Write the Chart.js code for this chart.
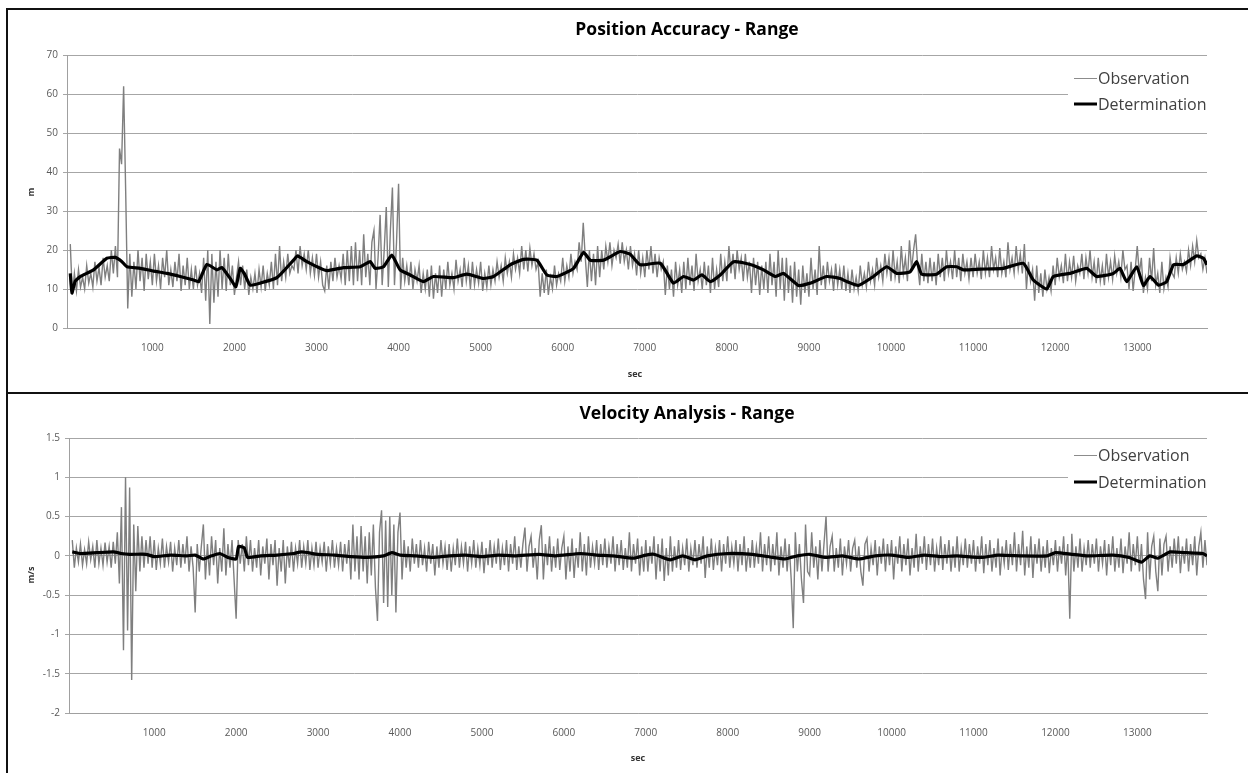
<!DOCTYPE html>
<html>
<head>
<meta charset="utf-8">
<title>Position Accuracy / Velocity Analysis - Range</title>
<script src="https://cdn.jsdelivr.net/npm/chart.js@4.4.1/dist/chart.umd.min.js"></script>
<style>
  body { margin: 0; background: #fff; width: 1248px; height: 773px; overflow: hidden; position: relative; }
  .frame { position: absolute; background: #111; }
  canvas { position: absolute; }
</style>
</head>
<body>
<div class="frame" style="left:6px;top:8px;width:1242px;height:2px"></div>
<div class="frame" style="left:6px;top:392px;width:1242px;height:2px"></div>
<div class="frame" style="left:6px;top:8px;width:2px;height:765px"></div>
<canvas id="posChart" width="1240" height="382" style="left:8px;top:10px"></canvas>
<canvas id="velChart" width="1240" height="379" style="left:8px;top:394px"></canvas>

<script>
// ---- data ----
var X_TICKS = [1000, 2000, 3000, 4000, 5000, 6000, 7000, 8000, 9000, 10000, 11000, 12000, 13000];
var OBS_STEP = 25; // one observation sample every 25 sec, 0 .. 13850 (20 per row = 500 sec)

// position accuracy, observation (m)
var posObs = [
  21.5, 8.5, 14, 9.5, 15, 10.5, 13, 10, 16, 11.5, 14, 10.5, 17, 12, 15.5, 11, 18, 13, 16, 12,
  20, 14, 21, 13, 46, 42, 62, 35, 5, 19, 8, 17, 10, 20, 12, 18, 9.5, 19, 12.5, 17,
  11, 19, 12, 16, 10, 18, 13, 20, 11, 15, 10.5, 17, 12, 19, 9.5, 16, 11, 18, 10, 15,
  10, 16, 11, 14, 9, 18, 7, 20, 1, 19, 6.5, 17, 8, 20, 10, 18, 9.5, 19, 11, 16,
  8.5, 13, 17, 11, 16, 10, 15, 8.5, 13, 10, 14, 9, 15, 10.5, 16, 9.5, 14, 11, 17, 10,
  19, 11, 21, 12, 17, 13, 19, 14, 16, 15, 20, 14, 21, 16, 19, 15, 20, 14, 18, 13.5,
  19, 13, 17, 11, 9.5, 16, 10, 17, 12, 18, 13, 16, 12.5, 19, 11, 20, 12, 21, 11, 22,
  12, 20, 11, 24, 13, 19, 11, 22, 25, 10, 18, 29, 11, 20, 31, 10.5, 25, 36, 11, 22,
  37, 10, 18, 12, 16, 11, 17, 10, 15, 12, 16, 9, 14, 10, 15, 8, 16, 7.5, 14, 9,
  16, 8, 15, 10, 17, 11, 14, 10, 17.5, 12, 15, 10.5, 18, 12, 16, 10, 17, 11, 15, 11.5,
  17, 9.5, 14, 10.5, 16, 11, 15, 12, 17, 13, 16, 12, 18, 14, 17, 13, 19, 15, 18, 14,
  21, 15, 20, 14.5, 20.5, 16, 19, 15, 17, 8, 14, 9, 15, 8.5, 13, 10, 16, 11, 14, 12,
  18, 12, 16, 13, 19, 14, 17, 15, 22, 17, 27, 18, 10.5, 20, 12, 19, 11, 21, 13, 20,
  15, 21, 17, 22, 16, 20, 18, 21.5, 16.5, 22, 17, 20, 15, 21, 16, 19, 13.5, 20, 14, 18,
  13, 20, 15, 21, 14, 19, 13, 18, 15, 17, 8.5, 16, 10, 15, 8, 17, 11, 15, 9, 17,
  10, 18, 11, 16, 9.5, 19, 12, 15, 10, 17, 11, 16, 9, 18, 10, 15, 10.5, 19, 12, 17,
  12, 21, 14, 19, 12.5, 20, 15, 18, 12, 19, 13, 17, 9, 18, 11, 17, 8.5, 16, 10, 17,
  9, 19, 11, 17, 8, 20, 10, 18, 7, 18, 9, 16, 6.5, 17, 8, 15, 6, 16, 9, 14,
  8, 18, 10, 15, 8.5, 21, 11, 16, 10, 17, 12, 15, 9.5, 16.5, 11, 15, 10, 16, 9.5, 14,
  9, 15, 10, 13, 9.5, 16, 11, 14, 10.5, 17, 12, 15, 11, 18, 13, 16, 12, 19, 14, 18,
  12, 20, 13, 17, 11.5, 21, 14, 18, 12, 22.5, 15, 20, 24, 16, 11, 19, 12, 17, 11.5, 18,
  12, 17, 11, 19, 13, 18, 12, 20, 14, 17, 12.5, 20, 13, 18, 12, 19, 14, 17, 12.5, 18,
  13, 19, 14, 17, 12.5, 20, 14, 18, 13, 21, 15, 18, 13, 20.5, 14, 17, 13, 22, 15, 18,
  14, 21, 15, 19, 14, 21.5, 10, 17, 12, 15, 7, 16, 9, 14, 8, 15, 10, 13, 9.5, 16,
  11, 18, 13, 16, 11.5, 19, 12, 17, 13, 18.5, 12, 16, 14, 19, 12.5, 18, 14, 20, 13, 17,
  11.5, 18, 12, 16, 11, 19, 13, 17, 12.5, 18.5, 14, 17, 13, 20, 15, 16, 10, 17, 9.5, 15,
  21, 14, 18, 9, 13, 10, 18, 12, 20.5, 11, 14, 9, 17, 10, 13, 10.5, 18, 14, 13, 18,
  14, 19, 15, 17, 14.5, 20, 16, 21, 17, 22.5, 18, 19, 15, 18, 14
];

// position accuracy, determination (m) as [sec, value]
var posDet = [
  [0, 14], [20, 9], [60, 12], [122, 13.2], [283, 14.9], [447, 17.9], [549, 18.1], [630, 17],
  [690, 15.7], [853, 15.3], [1015, 14.6], [1178, 14], [1340, 13.2], [1503, 12.3], [1564, 11.9],
  [1665, 16.3], [1787, 14.9], [1848, 15.5], [1949, 12.7], [2018, 10.6], [2070, 15.3], [2119, 14],
  [2192, 11], [2314, 11.5], [2517, 12.9], [2720, 17.4], [2769, 18.5], [2883, 17], [3045, 15.3],
  [3126, 14.7], [3329, 15.5], [3532, 15.7], [3654, 17], [3714, 15.3], [3816, 15.7], [3917, 18.7],
  [4019, 14.9], [4141, 13.6], [4303, 11.9], [4425, 13.2], [4669, 12.9], [4832, 13.8], [5035, 12.7],
  [5157, 13.2], [5360, 16.2], [5522, 17.6], [5685, 17.4], [5807, 13.6], [5929, 13.2], [6132, 15.3],
  [6254, 19.4], [6335, 17.4], [6498, 17.4], [6700, 19.6], [6822, 18.9], [6944, 16.2], [7188, 16.6],
  [7350, 11.5], [7472, 13.2], [7594, 12.3], [7696, 13.6], [7797, 11.9], [7919, 13.6], [8082, 17],
  [8285, 16.3], [8447, 14.9], [8590, 13.2], [8691, 14], [8873, 10.9], [9015, 11.5], [9218, 13.2],
  [9381, 12.7], [9460, 11.9], [9602, 10.9], [9785, 13.2], [9947, 15.7], [10069, 14], [10231, 14.4],
  [10313, 17], [10373, 13.8], [10556, 13.8], [10678, 15.7], [10800, 15.7], [10881, 14.9],
  [11084, 15.1], [11368, 15.3], [11612, 16.6], [11734, 12.3], [11897, 10], [11978, 13.2],
  [12181, 14], [12384, 15.3], [12506, 13.2], [12709, 14], [12790, 15.3], [12872, 11.9],
  [12994, 15.7], [13075, 10.9], [13156, 13.2], [13258, 11], [13359, 11.9], [13441, 16.2],
  [13563, 16.3], [13725, 18.5], [13806, 17.9], [13850, 16.2]
];

// velocity analysis, observation (m/s)
var velObs = [
  0.2, -0.15, 0.1, -0.08, 0.15, -0.12, 0.08, -0.1, 0.18, -0.05, 0.12, -0.15, 0.2, -0.1, 0.1, -0.12, 0.17, -0.08, 0.12, -0.15,
  0.18, -0.1, 0.3, -0.35, 0.62, -1.2, 1.0, -0.95, 0.87, -1.58, 0.4, -0.45, 0.38, -0.2, 0.25, -0.15, 0.2, -0.1, 0.25, -0.15,
  0.2, -0.18, 0.1, -0.1, 0.22, -0.15, 0.12, -0.08, 0.18, -0.2, 0.1, -0.12, 0.2, -0.15, 0.15, -0.1, 0.25, -0.2, 0.12, -0.15,
  -0.72, 0.15, -0.2, 0.12, 0.4, -0.3, 0.15, -0.25, 0.25, -0.12, 0.2, -0.35, 0.1, -0.2, 0.35, -0.25, 0.15, -0.15, 0.2, -0.3,
  -0.8, 0.2, -0.1, 0.15, -0.2, 0.25, -0.12, 0.2, -0.2, 0.1, -0.15, 0.2, -0.25, 0.12, -0.1, 0.22, -0.3, 0.15, -0.12, 0.2,
  -0.38, 0.1, -0.2, 0.2, -0.35, 0.12, -0.15, 0.18, -0.2, 0.1, -0.1, 0.2, -0.15, 0.12, -0.1, 0.2, -0.18, 0.1, -0.12, 0.18,
  -0.15, 0.1, -0.08, 0.18, -0.2, 0.12, -0.1, 0.2, -0.15, 0.1, -0.12, 0.18, -0.2, 0.15, -0.1, 0.2, -0.3, 0.4, -0.2, 0.25,
  -0.3, 0.38, -0.2, 0.25, -0.35, 0.3, -0.25, 0.4, -0.4, -0.83, 0.3, 0.58, -0.6, 0.45, -0.65, 0.5, -0.5, 0.4, -0.72, 0.3,
  0.55, -0.3, 0.2, -0.15, 0.12, -0.2, 0.22, -0.1, 0.15, -0.15, 0.2, -0.12, 0.1, -0.2, 0.18, -0.1, 0.15, -0.25, 0.12, -0.15,
  0.2, -0.1, 0.12, -0.18, 0.15, -0.2, 0.1, -0.12, 0.22, -0.15, 0.12, -0.1, 0.18, -0.2, 0.12, -0.1, 0.2, -0.15, 0.1, -0.12,
  0.18, -0.22, 0.1, -0.12, 0.2, -0.15, 0.12, -0.1, 0.22, -0.18, 0.1, -0.12, 0.2, -0.2, 0.15, -0.1, 0.25, -0.18, 0.12, -0.15,
  0.15, 0.36, -0.2, 0.12, 0.25, -0.15, 0.1, -0.3, 0.2, 0.39, -0.3, 0.15, -0.12, 0.25, -0.2, 0.12, -0.15, 0.22, -0.18, 0.1,
  0.25, -0.3, 0.12, -0.2, 0.22, -0.28, 0.1, -0.15, 0.3, -0.2, 0.15, -0.25, 0.25, -0.15, 0.12, -0.1, 0.2, -0.18, 0.15, -0.12,
  0.22, -0.15, 0.12, -0.1, 0.25, -0.2, 0.15, -0.12, 0.2, -0.18, 0.1, -0.15, 0.3, -0.2, 0.15, -0.1, 0.22, -0.25, 0.12, -0.2,
  0.2, -0.2, 0.12, -0.1, 0.25, -0.3, 0.15, -0.2, 0.22, -0.32, 0.1, -0.25, 0.25, -0.2, 0.12, -0.15, 0.2, -0.18, 0.1, -0.12,
  0.22, -0.2, 0.1, -0.12, 0.2, -0.15, 0.15, -0.1, 0.25, -0.28, 0.12, -0.15, 0.22, -0.18, 0.1, -0.12, 0.2, -0.2, 0.15, -0.1,
  0.25, -0.15, 0.12, -0.1, 0.2, -0.2, 0.15, -0.12, 0.25, -0.2, 0.1, -0.15, 0.2, -0.15, 0.12, -0.1, 0.3, -0.2, 0.15, -0.12,
  0.25, -0.2, 0.15, -0.12, 0.3, -0.25, 0.12, -0.15, 0.22, -0.2, 0.15, -0.3, -0.92, 0.3, -0.2, 0.15, -0.3, -0.6, 0.4, -0.2,
  -0.25, 0.3, -0.15, 0.12, -0.3, 0.2, -0.2, 0.15, 0.5, -0.2, 0.12, 0.25, -0.2, 0.1, -0.15, 0.22, -0.25, 0.12, -0.1, 0.2,
  -0.2, 0.1, 0.2, -0.15, 0.12, -0.2, -0.38, 0.15, 0.22, -0.2, 0.1, -0.12, 0.2, -0.25, 0.12, -0.1, 0.22, -0.2, 0.15, -0.12,
  0.2, -0.3, 0.12, -0.1, 0.25, -0.2, 0.15, -0.12, 0.22, -0.25, 0.1, -0.15, 0.28, -0.2, 0.12, -0.1, 0.25, -0.18, 0.15, -0.12,
  0.22, -0.2, 0.1, -0.12, 0.25, -0.18, 0.15, -0.1, 0.2, -0.2, 0.12, -0.15, 0.25, -0.2, 0.1, -0.12, 0.22, -0.15, 0.15, -0.1,
  0.2, -0.2, 0.12, -0.1, 0.25, -0.22, 0.15, -0.12, 0.2, -0.2, 0.1, -0.15, 0.22, -0.25, 0.12, -0.1, 0.2, -0.18, 0.15, -0.12,
  0.3, -0.2, 0.15, -0.12, 0.32, -0.25, 0.12, -0.15, 0.25, -0.28, 0.15, -0.1, 0.22, -0.2, 0.12, -0.15, 0.2, -0.22, 0.1, -0.12,
  0.2, -0.2, 0.12, -0.1, 0.25, -0.25, 0.15, -0.8, 0.28, -0.2, 0.12, -0.15, 0.22, -0.2, 0.1, -0.12, 0.2, -0.15, 0.15, -0.1,
  0.22, -0.2, 0.12, -0.1, 0.2, -0.25, 0.15, -0.12, 0.25, -0.2, 0.1, -0.15, 0.22, -0.22, 0.12, -0.1, 0.3, -0.2, 0.15, -0.12,
  0.25, -0.2, 0.15, -0.3, -0.55, 0.3, -0.3, 0.12, 0.25, -0.2, -0.45, 0.22, -0.25, 0.15, 0.25, -0.2, 0.12, -0.15, 0.22, -0.1,
  0.25, -0.22, 0.12, -0.1, 0.22, -0.2, 0.15, -0.12, 0.25, -0.25, 0.12, 0.3, -0.15, 0.2, -0.12
];

// velocity analysis, determination (m/s) as [sec, value]
var velDet = [
  [0, 0.05], [100, 0.03], [300, 0.04], [500, 0.05], [600, 0.03], [700, 0.02], [900, 0.02],
  [1000, -0.01], [1200, 0.01], [1400, 0], [1500, 0.01], [1600, -0.04], [1700, 0], [1800, 0.03],
  [1900, -0.02], [2000, -0.04], [2030, 0.12], [2100, 0.1], [2140, -0.02], [2300, 0], [2500, 0.01],
  [2700, 0.03], [2800, 0.05], [3000, 0.02], [3200, 0.01], [3400, -0.01], [3600, -0.02], [3800, 0],
  [3900, 0.04], [4000, 0.01], [4200, 0], [4400, -0.02], [4600, 0], [4800, 0.01], [5000, -0.01],
  [5200, 0.01], [5400, 0], [5700, 0.02], [5900, 0], [6200, 0.03], [6400, 0.01], [6600, 0],
  [6850, -0.03], [7000, 0.01], [7100, 0.02], [7300, -0.05], [7450, 0], [7600, -0.05], [7750, 0],
  [8000, 0.03], [8300, 0.02], [8550, -0.02], [8700, -0.04], [8850, 0], [9000, 0.02], [9200, -0.02],
  [9400, 0], [9600, -0.04], [9800, 0], [10000, 0.01], [10200, -0.02], [10400, 0.01], [10600, -0.01],
  [10800, 0], [11100, -0.02], [11300, 0.01], [11600, 0], [11900, 0], [12000, 0.04], [12200, 0.02],
  [12400, 0], [12700, 0.01], [12900, -0.02], [13050, -0.08], [13150, 0], [13250, -0.03],
  [13400, 0.05], [13600, 0.04], [13800, 0.03], [13850, 0]
];

var FONT = '"Open Sans", "DejaVu Sans", sans-serif';

function obsPoints(values) {
  return values.map(function (v, i) { return { x: i * OBS_STEP, y: v }; });
}

function detPoints(pairs) {
  return pairs.map(function (p) { return { x: p[0], y: p[1] }; });
}

// title, axis titles and the legend box are drawn straight onto the canvas
function decorPlugin(cfg) {
  return {
    id: 'decor',
    afterDraw: function (chart) {
      var ctx = chart.ctx;
      var area = chart.chartArea;
      ctx.save();

      ctx.fillStyle = '#000';
      ctx.font = 'bold 17.5px ' + FONT;
      ctx.textAlign = 'center';
      ctx.textBaseline = 'middle';
      ctx.fillText(cfg.title, 679, 20);

      ctx.fillStyle = '#333';
      ctx.font = 'bold 9px ' + FONT;
      ctx.fillText('sec', cfg.secX, 364);
      ctx.translate(23, cfg.unitY);
      ctx.rotate(-Math.PI / 2);
      ctx.fillText(cfg.unit, 0, 0);
      ctx.setTransform(1, 0, 0, 1, 0, 0);

      // legend
      var y1 = area.top + cfg.legendDy[0];
      var y2 = area.top + cfg.legendDy[1];
      var lx = area.right - 133;
      ctx.fillStyle = '#fff';
      ctx.fillRect(lx - 6, y1 - 13, 150, y2 - y1 + 26);
      ctx.lineCap = 'butt';
      ctx.strokeStyle = '#8c8c8c';
      ctx.lineWidth = 1;
      ctx.beginPath(); ctx.moveTo(lx, y1 + 0.5); ctx.lineTo(lx + 23, y1 + 0.5); ctx.stroke();
      ctx.strokeStyle = '#000';
      ctx.lineWidth = 3;
      ctx.beginPath(); ctx.moveTo(lx, y2); ctx.lineTo(lx + 23, y2); ctx.stroke();
      ctx.fillStyle = '#404040';
      ctx.font = '16px ' + FONT;
      ctx.textAlign = 'left';
      ctx.fillText('Observation', lx + 24, y1 + 1);
      ctx.fillText('Determination', lx + 24, y2 + 1);
      ctx.restore();
    }
  };
}

function makeChart(id, obs, det, yCfg, cfg) {
  return new Chart(document.getElementById(id), {
    type: 'line',
    data: {
      datasets: [{
        label: 'Determination',
        data: detPoints(det),
        borderColor: '#000',
        borderWidth: 3.2,
        pointRadius: 0,
        tension: 0.15
      }, {
        label: 'Observation',
        data: obsPoints(obs),
        borderColor: '#7f7f7f',
        borderWidth: 1.4,
        pointRadius: 0,
        tension: 0
      }]
    },
    options: {
      responsive: false,
      animation: false,
      layout: { padding: { top: yCfg.top, right: 41, bottom: 0, left: 0 } },
      plugins: { legend: { display: false }, tooltip: { enabled: false }, title: { display: false } },
      scales: {
        x: {
          type: 'linear',
          min: -40,
          max: 13850,
          afterBuildTicks: function (scale) {
            scale.ticks = X_TICKS.map(function (v) { return { value: v }; });
          },
          afterFit: function (scale) { scale.height = cfg.xHeight; },
          grid: { display: false },
          border: { display: true, color: '#a0a0a0', width: 1 },
          ticks: {
            maxRotation: 0,
            autoSkip: false,
            padding: 6,
            color: '#595959',
            font: { family: FONT, size: 10 },
            callback: function (v) { return String(v); }
          }
        },
        y: {
          min: yCfg.min,
          max: yCfg.max,
          afterFit: function (scale) { scale.width = yCfg.width; },
          grid: { color: '#a6a6a6', lineWidth: 1, tickLength: 4 },
          border: { display: true, color: '#a0a0a0', width: 1 },
          ticks: {
            stepSize: yCfg.step,
            padding: 5,
            color: '#595959',
            font: { family: FONT, size: 10 },
            callback: function (v) { return String(v); }
          }
        }
      }
    },
    plugins: [decorPlugin(cfg)]
  });
}

makeChart('posChart', posObs, posDet,
  { min: 0, max: 70, step: 10, width: 59, top: 45 },
  { title: 'Position Accuracy - Range', unit: 'm', unitY: 182, secX: 627, xHeight: 64, legendDy: [23, 49] });

makeChart('velChart', velObs, velDet,
  { min: -2, max: 1.5, step: 0.5, width: 61, top: 44 },
  { title: 'Velocity Analysis - Range', unit: 'm/s', unitY: 181, secX: 630, xHeight: 60, legendDy: [17, 44] });
</script>
</body>
</html>
